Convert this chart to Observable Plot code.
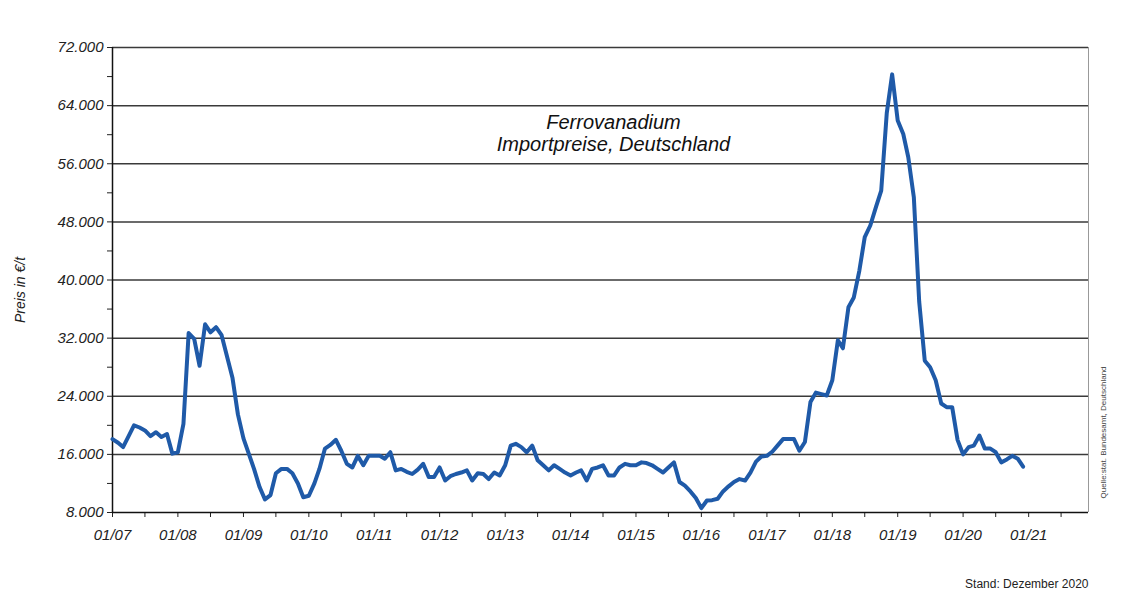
<!DOCTYPE html>
<html>
<head>
<meta charset="utf-8">
<script src="https://cdn.jsdelivr.net/npm/d3@7"></script>
<script src="https://cdn.jsdelivr.net/npm/@observablehq/plot@0.6"></script>
<style>
  html, body { margin: 0; padding: 0; background: #fff; }
</style>
</head>
<body>
<div id="chart"></div>
<script>
// Monthly import prices Ferrovanadium, Germany (EUR/t), Jan 2007 .. Dec 2020
const startYear = 2007;
const prices = [
  18100, 17600, 17000, 18500, 20000, 19700, 19300, 18500, 19050, 18400, 18800, 16100,
  16300, 20200, 32700, 31900, 28200, 33900, 32800, 33500, 32400, 29500, 26500, 21500,
  18200, 16000, 14000, 11500, 9800, 10400, 13400, 14000, 14000, 13400, 12000, 10100,
  10300, 12000, 14000, 16800, 17300, 18000, 16500, 14700, 14200, 15800, 14500, 15800,
  15800, 15800, 15400, 16300, 13800, 14000, 13600, 13300, 13900, 14700, 12900, 12900,
  14200, 12400, 13000, 13300, 13500, 13800, 12400, 13400, 13300, 12600, 13500, 13100,
  14500, 17200, 17450, 17000, 16300, 17200, 15200, 14500, 13800, 14500, 14000, 13500,
  13100, 13500, 13800, 12400, 14000, 14200, 14500, 13100, 13100, 14200, 14700, 14500,
  14500, 14900, 14800, 14500, 14000, 13500, 14200, 14900, 12200, 11700, 10900, 10000,
  8600, 9650, 9700, 9900, 10900, 11600, 12200, 12600, 12400, 13500, 15000, 15700,
  15800, 16400, 17200, 18100, 18100, 18100, 16500, 17700, 23200, 24500, 24300, 24100,
  26200, 31700, 30600, 36250, 37600, 41300, 45900, 47500, 50000, 52300, 63000, 68300,
  61950, 60100, 56900, 51400, 37000, 28900, 28000, 26200, 23000, 22500, 22500, 18000,
  16000, 17000, 17200, 18600, 16800, 16800, 16300, 14900, 15300, 15800, 15400, 14300
];
const yGrid = [16000, 24000, 32000, 40000, 48000, 56000, 64000, 72000];
const yTickValues = [8000, 12000, 16000, 20000, 24000, 28000, 32000, 36000, 40000,
  44000, 48000, 52000, 56000, 60000, 64000, 68000, 72000];
const xTickLabels = ["01/07", "01/08", "01/09", "01/10", "01/11", "01/12", "01/13",
  "01/14", "01/15", "01/16", "01/17", "01/18", "01/19", "01/20", "01/21"];
const titleText = "Ferrovanadium\nImportpreise, Deutschland";
const yLabel = "Preis in €/t";
const standText = "Stand: Dezember 2020";
const sourceText = "Quelle:stat. Bundesamt, Deutschland";

const data = prices.map((p, i) => ({date: new Date(Date.UTC(startYear, i, 1)), price: p}));
const xStart = new Date(Date.UTC(2007, 0, 1));
const xEnd = new Date(Date.UTC(2021, 11, 1));
const xTicks = d3.utcMonth.every(6).range(xStart, new Date(Date.UTC(2021, 11, 2)));

const de = d3.formatLocale({decimal: ",", thousands: ".", grouping: [3], currency: ["", "€"]});
const fmt = de.format(",.0f");

const chart = Plot.plot({
  width: 1126,
  height: 610,
  marginLeft: 112,
  marginRight: 38,
  marginTop: 47,
  marginBottom: 98,
  x: {type: "utc", domain: [xStart, xEnd]},
  y: {domain: [8000, 72000]},
  style: {fontFamily: "'Liberation Sans', Arial, sans-serif", fontStyle: "italic", color: "#222", background: "#fff"},
  marks: [
    Plot.ruleY(yGrid, {stroke: "#3a3a3a", strokeWidth: 1.5}),
    Plot.ruleX([xEnd], {stroke: "#999", strokeWidth: 1}),
    Plot.axisY({ticks: yTickValues, tickSize: 5, tickPadding: 4, fontSize: 15, label: null,
      tickFormat: d => d % 8000 === 0 ? fmt(d) : ""}),
    Plot.axisX({ticks: xTicks, tickSize: 5, tickPadding: 12, fontSize: 15, label: null,
      tickFormat: d => d.getUTCMonth() === 0 ? xTickLabels[d.getUTCFullYear() - startYear] : ""}),
    Plot.ruleX([xStart], {stroke: "#111", strokeWidth: 1.5}),
    Plot.ruleY([8000], {stroke: "#111", strokeWidth: 1.5}),
    Plot.lineY(data, {x: "date", y: "price", stroke: "#1f5aa8", strokeWidth: 4, strokeLinejoin: "round"}),
    Plot.text([titleText], {frameAnchor: "top", dx: 13, dy: 85, lineAnchor: "middle", fontSize: 20, lineHeight: 1.1, fill: "#111"}),
    Plot.text([yLabel], {frameAnchor: "left", dx: -92, dy: 10, rotate: -90, textAnchor: "middle", lineAnchor: "middle", fontSize: 14, fill: "#222"}),
    Plot.text([standText], {frameAnchor: "bottom-right", dy: 72, textAnchor: "end", lineAnchor: "middle", fontSize: 12, fontStyle: "normal", fill: "#222"}),
    Plot.text([sourceText], {frameAnchor: "bottom-right", dx: 15, dy: -80, rotate: -90, textAnchor: "middle", lineAnchor: "middle", fontSize: 8, fontStyle: "normal", fill: "#444"})
  ]
});
document.getElementById("chart").appendChild(chart);
</script>
</body>
</html>
